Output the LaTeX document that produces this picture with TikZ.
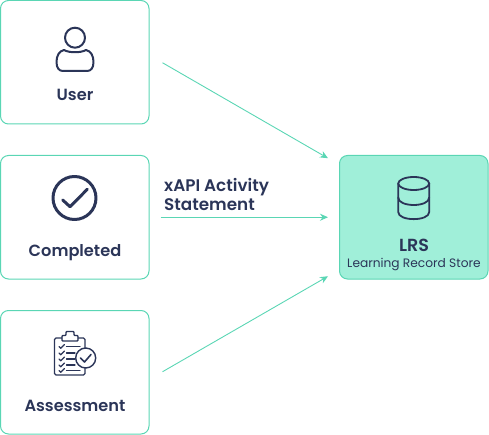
\documentclass[tikz,border=0pt]{standalone}
\usepackage{fontspec}
\usetikzlibrary{arrows.meta}
\setmainfont{Poppins}[BoldFont={Poppins SemiBold}]
\definecolor{navy}{HTML}{2B3558}
\definecolor{mint}{HTML}{5AD6B4}
\definecolor{mintfill}{HTML}{A0EFD9}
\tikzset{
  card/.style={draw=mint, line width=1pt, rounded corners=8pt, minimum width=148.5pt, minimum height=123.5pt},
  cardtext/.style={text=navy, inner sep=0pt, anchor=base, font=\bfseries\fontsize{16.2}{19}\selectfont},
  flow/.style={->, draw=mint, line width=0.9pt},
  icon/.style={draw=navy, line width=2.2pt, line cap=round, line join=round}
}
\begin{document}
\begin{tikzpicture}[>={Stealth[length=8pt,width=7pt]}, x=1pt, y=-1pt]
\useasboundingbox (0,0) rectangle (489,435);

\node[card] (user) at (74.75,62.25) {};
\node[card] (completed) at (74.75,217.25) {};
\node[card] (assessment) at (74.75,372.25) {};
\node[card, fill=mintfill] (lrs) at (413.75,217.25) {};

\node[cardtext] (usertext) at (75,101) {User};
\node[cardtext] (completedtext) at (75,256) {Completed};
\node[cardtext] (assessmenttext) at (75,411) {Assessment};
\node[cardtext, font=\bfseries\fontsize{17.5}{20}\selectfont] (lrstext) at (414,251.5) {LRS};
\node[cardtext, font=\fontsize{12.2}{14}\selectfont] (lrssub) at (414,267) {Learning Record Store};
\node[cardtext, anchor=west, align=left, font=\bfseries\fontsize{16.8}{19}\selectfont] (xapi) at (164,194) {xAPI Activity\\Statement};

\draw[flow] ([xshift=13pt,yshift=-0.5pt]user.east) -- ([xshift=-11pt,yshift=59pt]lrs.west);
\draw[flow] ([xshift=11pt]completed.east) -- ([xshift=-11pt]lrs.west);
\draw[flow] ([xshift=13pt,yshift=0.5pt]assessment.east) -- ([xshift=-11pt,yshift=-59pt]lrs.west);

% user
\draw[icon, line width=2pt] (75,37.7) circle[radius=10];
\draw[icon, line width=2pt] (64,50) .. controls (69,53) and (81,53) .. (86,50)
  .. controls (91,51) and (93.5,56) .. (93.5,62) .. controls (93.5,68) and (91,71) .. (87,71)
  -- (63,71) .. controls (59,71) and (56.5,68) .. (56.5,62) .. controls (56.5,56) and (59,51) .. (64,50) -- cycle;

% completed
\draw[icon, line width=3pt] (74.5,198) circle[radius=21.5];
\draw[icon, line width=3pt] (62.7,200) -- (70,206.7) -- (87.3,189.3);

% lrs
\draw[icon, line width=1.8pt] (413.7,183.5) ellipse[x radius=15.5, y radius=6.5];
\draw[icon, line width=1.8pt] (398.2,183.5) -- (398.2,212) .. controls (398.2,221.5) and (429.2,221.5) .. (429.2,212) -- (429.2,183.5);
\draw[icon, line width=1.8pt] (398.2,197.5) .. controls (398.2,207.5) and (429.2,207.5) .. (429.2,197.5);

% assessment
\draw[icon, line width=1.4pt, rounded corners=1.5pt] (62,338) -- (54.5,338) -- (54.5,375) -- (85,375) -- (85,338) -- (78,338);
\draw[icon, line width=1.4pt, rounded corners=0.8pt] (62,341) -- (62,335.5) -- (66,335.5) -- (66,331.5) -- (74,331.5) -- (74,335.5) -- (78,335.5) -- (78,341) -- cycle;
\foreach \rowy/\rowend in {346.5/80, 353/75, 359/75, 365/75, 370.5/80}{
  \draw[icon, line width=1.2pt] (59,\rowy) -- (60.8,\rowy+1.8) -- (64.5,\rowy-2);
  \draw[icon, line width=1.1pt] (66.5,\rowy) -- (\rowend,\rowy);
}
\draw[icon, line width=1.4pt, fill=white] (85.7,358) circle[radius=10];
\draw[icon, line width=1.6pt] (80.5,358) -- (84.5,362) -- (91,354.5);
\end{tikzpicture}
\end{document}
